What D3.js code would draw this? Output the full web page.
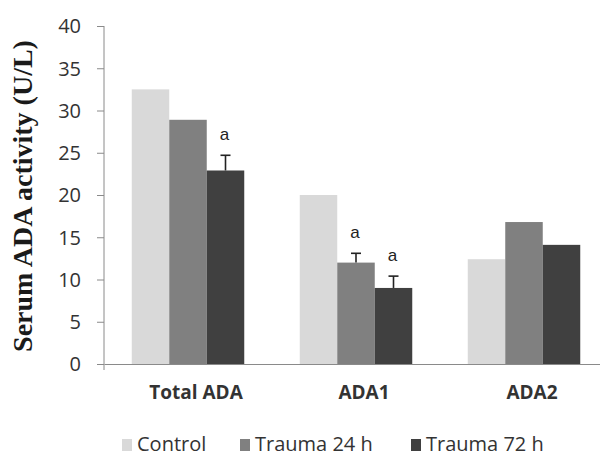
<!DOCTYPE html>
<html>
<head>
<meta charset="utf-8">
<script src="https://cdn.jsdelivr.net/npm/d3@7"></script>
<style>
  html, body { margin: 0; padding: 0; background: #fff; }
  svg { display: block; }
</style>
</head>
<body>
<svg id="chart" width="600" height="456"></svg>
<script>
// Serum ADA activity by group
const categories = ["Total ADA", "ADA1", "ADA2"];
const seriesNames = ["Control", "Trauma 24 h", "Trauma 72 h"];
const control   = [32.5, 20.0, 12.4];
const trauma24  = [28.9, 12.0, 16.8];
const trauma72  = [22.9, 9.0, 14.1];
// upper error (SE) for bars that carry one; null = no bar drawn
const err24 = [null, 1.1, null];
const err72 = [1.8, 1.4, null];
// significance marks
const sig24 = [null, "a", null];
const sig72 = ["a", "a", null];
const yTicks = [0, 5, 10, 15, 20, 25, 30, 35, 40];
const colors = ["#d9d9d9", "#808080", "#404040"];

const series = [
  { name: seriesNames[0], values: control, err: [null, null, null], sig: [null, null, null] },
  { name: seriesNames[1], values: trauma24, err: err24, sig: sig24 },
  { name: seriesNames[2], values: trauma72, err: err72, sig: sig72 }
];

const svg = d3.select("#chart");
const plotLeft = 104, plotTop = 26, plotBottom = 364, plotRight = 608;

const x0 = d3.scaleBand().domain(categories).range([plotLeft, plotRight]).paddingInner(0).paddingOuter(0);
const bw = 37.5;
const x1 = d3.scaleBand().domain(seriesNames)
  .range([(x0.bandwidth() - 3 * bw) / 2, (x0.bandwidth() + 3 * bw) / 2]).padding(0);
const y = d3.scaleLinear().domain([0, 40]).range([plotBottom, plotTop]);

// bars
const groups = svg.append("g").selectAll("g")
  .data(categories).join("g")
  .attr("transform", d => `translate(${x0(d)},0)`);

series.forEach((s, si) => {
  groups.append("rect")
    .attr("x", x1(s.name))
    .attr("width", x1.bandwidth())
    .attr("y", (d, i) => y(s.values[i]))
    .attr("height", (d, i) => y(0) - y(s.values[i]))
    .attr("fill", colors[si]);
});

// error bars and significance letters
series.forEach(s => {
  categories.forEach((c, i) => {
    const cx = x0(c) + x1(s.name) + x1.bandwidth() / 2;
    if (s.err[i] != null) {
      const yt = y(s.values[i] + s.err[i]);
      svg.append("line").attr("x1", cx).attr("x2", cx)
        .attr("y1", y(s.values[i])).attr("y2", yt)
        .attr("stroke", "#222").attr("stroke-width", 1.6);
      svg.append("line").attr("x1", cx - 5).attr("x2", cx + 5)
        .attr("y1", yt).attr("y2", yt)
        .attr("stroke", "#222").attr("stroke-width", 1.6);
    }
    if (s.sig[i]) {
      const yTop = y(s.values[i] + (s.err[i] || 0));
      svg.append("text").attr("x", cx - 1).attr("y", yTop - 15)
        .attr("text-anchor", "middle")
        .attr("font-family", "Liberation Sans, Arial, sans-serif")
        .attr("font-size", 17).attr("fill", "#222")
        .text(s.sig[i]);
    }
  });
});

// y axis
const yAxis = d3.axisLeft(y).tickValues(yTicks).tickSize(7).tickPadding(16);
const gy = svg.append("g").attr("transform", `translate(${plotLeft},0)`).call(yAxis);
gy.select(".domain").attr("stroke", "#8a8a8a").attr("d", `M0,${plotTop}V${plotBottom + 6}`);
gy.selectAll(".tick line").attr("stroke", "#8a8a8a");
gy.selectAll(".tick text")
  .attr("font-family", "Open Sans, sans-serif").attr("font-size", 20)
  .attr("fill", "#333").attr("dy", "0.34em");

// x axis
const xAxis = d3.axisBottom(x0).tickSize(0).tickPadding(22);
const gx = svg.append("g").attr("transform", `translate(0,${plotBottom})`).call(xAxis);
gx.select(".domain").attr("stroke", "#8a8a8a");
gx.selectAll(".tick text")
  .attr("font-family", "Open Sans, sans-serif").attr("font-size", 19)
  .attr("font-weight", "bold").attr("fill", "#333").attr("dx", 8);

// y title
svg.append("text")
  .attr("transform", "translate(32,196) rotate(-90)")
  .attr("text-anchor", "middle")
  .attr("font-family", "Liberation Serif, Times New Roman, serif")
  .attr("font-weight", "bold").attr("font-size", 28).attr("fill", "#1a1a1a")
  .text("Serum ADA activity (U/L)");

// legend
const legendX = [122, 240, 411];
const lg = svg.append("g").selectAll("g").data(seriesNames).join("g")
  .attr("transform", (d, i) => `translate(${legendX[i]},439)`);
lg.append("rect").attr("x", 0).attr("y", 0).attr("width", 10).attr("height", 12)
  .attr("fill", (d, i) => colors[i]);
lg.append("text").attr("x", 15).attr("y", 12)
  .attr("font-family", "Open Sans, sans-serif").attr("font-size", 20)
  .attr("fill", "#333").text(d => d);
</script>
</body>
</html>
